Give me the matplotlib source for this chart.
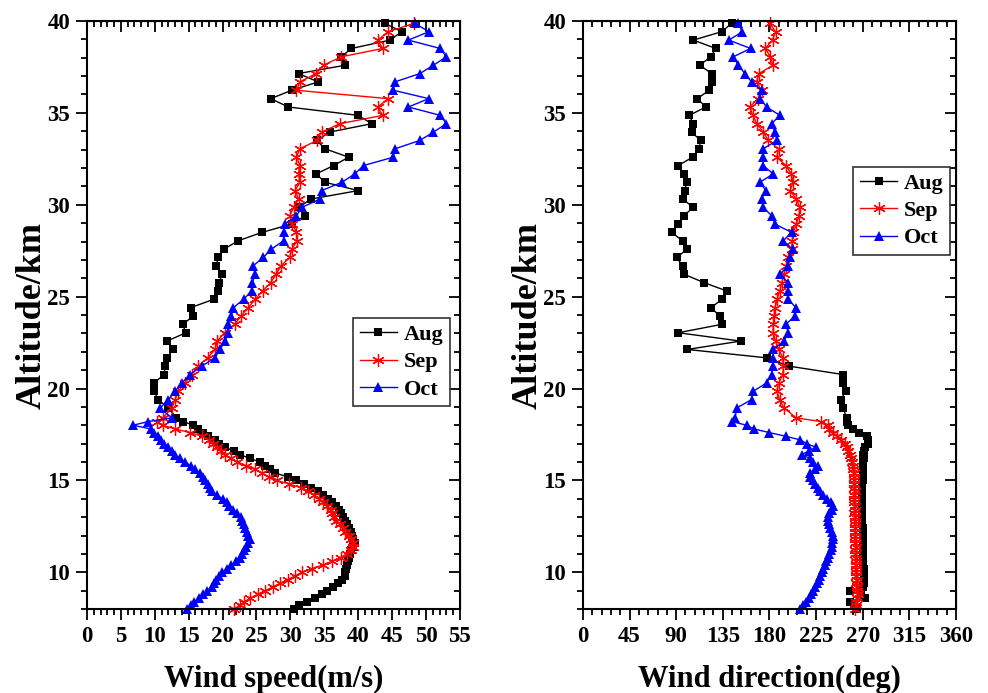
import numpy as np
import matplotlib
matplotlib.use("Agg")
import matplotlib.pyplot as plt
from matplotlib.ticker import MultipleLocator

plt.rcParams['font.family'] = ['Liberation Serif', 'DejaVu Serif']
plt.rcParams['font.weight'] = 'bold'

# altitude levels (km): dense below the tropopause, ~0.455 km above
alt_low = np.round(np.arange(8.0, 18.41, 0.2), 2)
alt_high = np.round(39.87 - 0.455 * np.arange(47), 3)   # top -> down

# ---- wind speed (m/s) ----
aug_spd_low = [30.5, 31.2, 32.4, 33.6, 34.6, 35.4, 36.3, 37.0, 37.6, 38.0,
               38.1, 38.2, 38.3, 38.5, 38.7, 38.8, 39.0, 39.3, 39.5, 39.3,
               39.1, 38.9, 38.6, 38.3, 38.0, 37.8, 37.4, 37.1, 36.8, 36.1,
               35.5, 34.8, 34.0, 33.0, 32.0, 30.8, 29.6, 27.7, 27.0, 26.2,
               25.5, 24.0, 22.6, 21.7, 20.4, 19.5, 18.9, 17.8, 17.1, 16.4,
               15.7, 14.2, 13.2]
aug_spd_high = [44.0, 46.4, 44.7, 39.0, 37.5, 38.1, 31.2, 34.1, 30.2, 27.1,
                29.7, 40.0, 42.0, 35.8, 33.9, 35.1, 38.6, 36.4, 33.8, 35.1,
                40.0, 33.1, 31.2, 32.2, 30.2, 25.8, 22.3, 20.2, 19.3, 19.1,
                19.9, 19.5, 19.3, 18.7, 15.3, 15.7, 14.1, 14.6, 11.8, 12.7,
                11.8, 11.5, 11.4, 9.9, 9.9, 10.5, 12.0]

sep_spd_low = [21.7, 22.5, 23.2, 24.1, 25.2, 26.3, 27.4, 28.5, 29.6, 30.7,
               31.7, 33.2, 34.8, 36.2, 37.4, 38.3, 38.9, 39.3, 39.3, 39.0,
               38.6, 38.1, 37.7, 37.3, 36.8, 36.4, 36.2, 36.0, 35.4, 34.8,
               34.2, 33.5, 32.6, 31.6, 29.8, 28.0, 26.8, 25.8, 24.8, 23.5,
               22.2, 21.2, 20.3, 19.7, 19.2, 18.6, 18.0, 17.0, 15.2, 13.0,
               11.2, 10.3, 11.2]
sep_spd_high = [48.2, 44.4, 42.9, 43.6, 37.5, 34.9, 33.8, 31.4, 30.9, 44.4,
                42.9, 43.6, 37.3, 34.6, 33.9, 31.4, 30.9, 31.4, 31.2, 31.4,
                30.7, 31.2, 30.5, 29.9, 30.3, 30.9, 31.0, 30.2, 29.9, 28.6,
                27.9, 27.1, 25.9, 24.8, 23.8, 22.7, 21.8, 20.3, 19.2, 18.9,
                17.8, 16.4, 15.5, 14.4, 13.5, 13.0, 12.5]

oct_spd_low = [14.8, 15.4, 15.8, 16.5, 17.1, 17.7, 18.4, 18.8, 19.1, 19.4,
               19.9, 20.6, 21.3, 22.0, 22.5, 22.8, 23.1, 23.5, 23.8, 24.0,
               23.8, 23.6, 23.3, 23.1, 22.9, 22.7, 22.2, 21.5, 21.0, 20.6,
               20.0, 19.2, 18.5, 18.1, 17.8, 17.4, 17.1, 16.7, 16.0, 15.3,
               14.5, 13.7, 13.0, 12.5, 12.0, 11.4, 10.9, 10.5, 9.9, 9.4,
               6.8, 9.0, 12.5]
oct_spd_high = [48.4, 50.4, 47.4, 52.1, 53.0, 51.1, 49.1, 45.4, 45.2, 50.4,
                47.4, 52.1, 53.0, 51.1, 49.1, 45.4, 45.2, 40.8, 39.5, 37.6,
                34.6, 34.4, 31.7, 30.9, 29.2, 29.0, 29.0, 27.2, 26.0, 24.5,
                24.8, 24.4, 24.3, 23.1, 21.6, 21.3, 20.8, 20.8, 20.4, 19.6,
                18.9, 16.9, 15.2, 14.0, 13.0, 12.0, 10.8]

# ---- wind direction (deg) ----
aug_dir_low = [265, 262, 258, 272, 268, 258, 270, 271, 271, 271,
               271, 271, 270.5, 270.5, 270, 270, 270, 270, 270, 270,
               270, 270, 270, 269.5, 269.5, 269.5, 269, 269, 269, 269,
               269, 269, 269, 269.5, 269.5, 270, 270, 270, 270, 270,
               270.5, 271, 270.5, 271, 272, 275, 275, 273.8, 266, 261,
               256, 255, 254.5]
aug_dir_high = [143.5, 133.9, 106.5, 128.4, 123.2, 112.9, 124.2, 124.2, 121.9, 110.3,
                118.7, 102.6, 106.5, 104.9, 113.6, 112.3, 105.9, 92.0, 97.5, 100.0,
                98.4, 96.2, 106.5, 97.5, 92.0, 85.6, 96.2, 100.7, 90.4, 96.2,
                97.5, 116.8, 138.7, 134.4, 123.5, 132.2, 133.9, 92.0, 152.2, 100.7,
                177.3, 199.1, 251.2, 251.2, 253.5, 249.0, 251.2]

sep_dir_low = [262.5, 264, 264, 265, 265.5, 265, 264.5, 264, 264.5, 264,
               264, 263.5, 263.5, 264, 263.5, 263, 263, 263.5, 263, 263,
               263, 262.5, 263, 262.5, 262.5, 262.5, 262, 262.5, 262.5, 262,
               262, 262, 262.5, 262, 262, 262, 262, 261.6, 261, 260.5,
               259.8, 259, 257.5, 256, 255, 252.5, 249, 245, 241.6, 238,
               236.7, 230, 206]
sep_dir_high = [180.5, 186.0, 183.0, 176.0, 181.0, 183.5, 170.0, 167.6, 172.5, 169.0,
                161.0, 164.0, 168.0, 174.0, 179.0, 189.0, 187.0, 196.0, 201.0, 203.0,
                199.8, 206.0, 209.4, 208.5, 206.0, 203.0, 202.0, 201.4, 198.0, 196.0,
                194.0, 192.0, 190.0, 187.5, 185.3, 184.5, 183.7, 183.7, 186.0, 189.0,
                193.0, 193.5, 193.0, 189.0, 187.0, 190.0, 194.0]

oct_dir_low = [210, 212.5, 215, 218, 220, 222, 224, 225.5, 227.5, 229,
               230.5, 232, 233.5, 235, 236.5, 238, 239, 240, 240.5, 241,
               241.5, 240, 238.5, 238, 237, 236.5, 237.5, 240, 241.5, 239,
               236, 232, 229, 227, 224, 222, 219, 219, 224, 227,
               222, 219, 211, 218, 225, 216, 210, 196, 180, 165,
               158, 144, 147]
oct_dir_high = [150.0, 153.8, 140.9, 161.8, 145.1, 149.9, 156.3, 162.8, 172.5, 170.8,
                177.3, 190.1, 182.1, 185.3, 187.5, 174.0, 173.4, 174.0, 183.7, 170.8,
                176.6, 172.5, 174.0, 182.1, 185.3, 201.4, 193.3, 202.4, 199.8, 198.1,
                190.1, 198.1, 198.1, 198.1, 205.6, 204.6, 195.9, 198.1, 194.0, 183.7,
                183.7, 183.7, 182.1, 177.3, 164.4, 162.8, 148.3]

months = ['Aug', 'Sep', 'Oct']
alt = np.concatenate([alt_low, alt_high[::-1]])


def profile(low, high):
    return np.concatenate([low, high[::-1]])


speed = [profile(aug_spd_low, aug_spd_high),
         profile(sep_spd_low, sep_spd_high),
         profile(oct_spd_low, oct_spd_high)]
direction = [profile(aug_dir_low, aug_dir_high),
             profile(sep_dir_low, sep_dir_high),
             profile(oct_dir_low, oct_dir_high)]

styles = [dict(color='black', marker='s', ms=5.8, mew=0),
          dict(color='red', marker=(6, 2, 0), ms=9, mew=0.9),
          dict(color='blue', marker='^', ms=7.5, mew=0)]

fig = plt.figure(figsize=(9.88, 6.93), dpi=100)
ax1 = fig.add_axes([0.088, 0.1212, 0.3775, 0.8485])
ax2 = fig.add_axes([0.590, 0.1212, 0.3775, 0.8485])


def setup(ax, xmax, xmajor, xminor, xlabel):
    ax.set_xlim(0, xmax)
    ax.set_ylim(8, 40)
    ax.xaxis.set_major_locator(MultipleLocator(xmajor))
    ax.xaxis.set_minor_locator(MultipleLocator(xminor))
    ax.yaxis.set_major_locator(MultipleLocator(5))
    ax.yaxis.set_minor_locator(MultipleLocator(1))
    ax.set_yticks([10, 15, 20, 25, 30, 35, 40])
    for s in ax.spines.values():
        s.set_linewidth(1.5)
    ax.tick_params(which='both', direction='out', width=1.3,
                   labelsize=16.5, pad=4)
    ax.tick_params(which='major', length=8)
    ax.tick_params(which='minor', length=4)
    # mirrored ticks on top/right point inwards
    sec_x = ax.secondary_xaxis('top')
    sec_x.xaxis.set_major_locator(MultipleLocator(xmajor))
    sec_x.xaxis.set_minor_locator(MultipleLocator(xminor))
    sec_x.tick_params(which='both', direction='in', width=1.3, labeltop=False)
    sec_x.tick_params(which='major', length=8)
    sec_x.tick_params(which='minor', length=4)
    sec_y = ax.secondary_yaxis('right')
    sec_y.yaxis.set_major_locator(MultipleLocator(5))
    sec_y.yaxis.set_minor_locator(MultipleLocator(1))
    sec_y.tick_params(which='both', direction='in', width=1.3, labelright=False)
    sec_y.tick_params(which='major', length=8)
    sec_y.tick_params(which='minor', length=4)
    for lab in ax.get_xticklabels() + ax.get_yticklabels():
        lab.set_fontweight('bold')
    ax.set_xlabel(xlabel, fontsize=22, fontweight='bold', labelpad=13)
    ax.set_ylabel('Altitude/km', fontsize=26, fontweight='bold', labelpad=-1)


for name, v, st in zip(months, speed, styles):
    ax1.plot(v, alt, lw=1.0, label=name, clip_on=False, **st)
for name, v, st in zip(months, direction, styles):
    ax2.plot(v, alt, lw=1.0, label=name, clip_on=False, **st)

setup(ax1, 55, 5, 1, 'Wind speed(m/s)')
setup(ax2, 360, 45, 9, 'Wind direction(deg)')

for ax, anchor in [(ax1, (0.713, 0.495)), (ax2, (0.724, 0.752))]:
    leg = ax.legend(loc='upper left', bbox_to_anchor=anchor, borderaxespad=0,
                    fancybox=False, edgecolor='#333333', framealpha=1,
                    prop=dict(family='Liberation Serif', weight='bold', size=16),
                    handlelength=1.7, handletextpad=0.3, labelspacing=0.3,
                    borderpad=0.3)
    leg.get_frame().set_linewidth(1.2)

fig.savefig('out.png', dpi=100)
